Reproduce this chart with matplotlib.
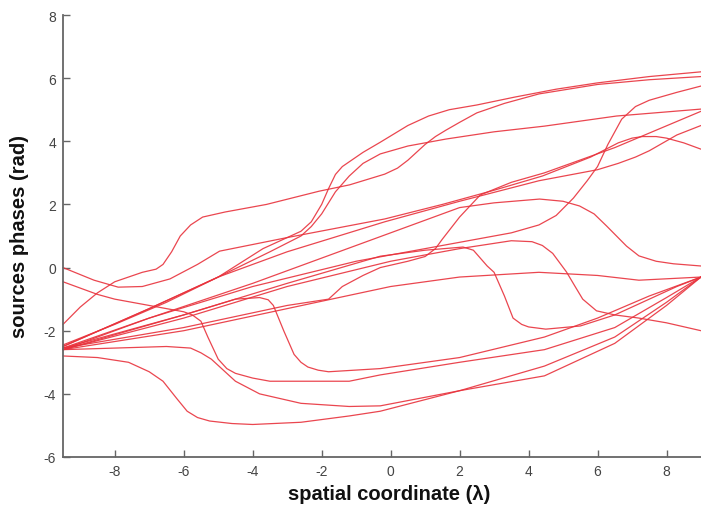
"""Phase profiles of the array sources against spatial coordinate."""

import matplotlib.pyplot as plt

# Each source: sampled (x, phase) pairs along the aperture.
src_01_x = [-9.5, -8.0, -6.5, -5.0, -3.7, -3.0, -2.6, -2.3, -2.0, -1.8, -1.6, -1.4, -1.2, -0.8, -0.3, 0.5, 1.1, 1.7, 2.5, 3.6, 4.8, 6.0, 7.5, 9.0]
src_01_y = [-2.45, -1.8, -1.1, -0.3, 0.6, 0.95, 1.15, 1.45, 2.0, 2.5, 2.95, 3.2, 3.35, 3.65, 3.97, 4.5, 4.8, 5.0, 5.15, 5.4, 5.65, 5.85, 6.05, 6.2]

src_02_x = [-9.5, -9.0, -8.5, -8.0, -7.2, -6.8, -6.6, -6.35, -6.1, -5.8, -5.45, -4.8, -3.6, -2.07, -1.19, -0.17, 0.2, 0.5, 0.8, 1.0, 1.3, 1.6, 2.0, 2.5, 3.3, 4.3, 6.0, 7.5, 9.0]
src_02_y = [-1.8, -1.25, -0.8, -0.45, -0.15, -0.05, 0.1, 0.5, 1.0, 1.35, 1.6, 1.76, 2.0, 2.42, 2.62, 2.96, 3.15, 3.4, 3.7, 3.9, 4.15, 4.35, 4.6, 4.9, 5.2, 5.5, 5.8, 5.95, 6.05]

src_03_x = [-9.5, -7.0, -5.0, -3.5, -2.6, -2.3, -2.0, -1.6, -1.2, -0.8, -0.3, 0.5, 1.6, 3.0, 4.46, 6.55, 9.0]
src_03_y = [-2.5, -1.3, -0.3, 0.5, 1.0, 1.3, 1.7, 2.4, 2.9, 3.3, 3.6, 3.85, 4.07, 4.3, 4.48, 4.8, 5.02]

src_04_x = [-9.5, -7.0, -4.0, -1.0, 1.0, 2.5, 3.5, 4.3, 4.8, 5.3, 5.7, 6.0, 6.3, 6.7, 7.1, 7.5, 8.3, 9.0]
src_04_y = [-2.6, -1.6, -0.6, 0.2, 0.6, 0.9, 1.1, 1.35, 1.65, 2.2, 2.75, 3.2, 3.9, 4.7, 5.1, 5.3, 5.55, 5.75]

src_05_x = [-9.5, -8.6, -7.9, -7.2, -6.4, -5.6, -4.96, -3.0, -0.17, 1.5, 3.0, 4.4, 5.8, 6.6, 7.0, 7.3, 7.7, 8.0, 8.5, 9.0]
src_05_y = [0.0, -0.4, -0.62, -0.6, -0.36, 0.1, 0.52, 0.95, 1.54, 2.0, 2.45, 2.9, 3.5, 3.95, 4.1, 4.15, 4.15, 4.1, 3.95, 3.75]

src_06_x = [-9.5, -7.0, -4.0, -2.0, 0.0, 1.0, 2.0, 3.0, 4.32, 5.0, 5.48, 5.9, 6.26, 6.55, 6.84, 7.2, 7.7, 8.2, 9.0]
src_06_y = [-2.55, -1.6, -0.5, 0.3, 1.1, 1.5, 1.9, 2.05, 2.17, 2.1, 1.95, 1.7, 1.32, 1.0, 0.68, 0.37, 0.2, 0.12, 0.05]

src_07_x = [-9.5, -6.0, -3.0, -0.3, 1.0, 2.1, 2.4, 2.6, 2.8, 3.0, 3.3, 3.55, 3.8, 4.0, 4.5, 5.5, 6.5, 7.5, 8.3, 9.0]
src_07_y = [-2.6, -1.5, -0.5, 0.36, 0.55, 0.65, 0.55, 0.3, 0.05, -0.15, -0.9, -1.6, -1.8, -1.88, -1.95, -1.85, -1.5, -1.0, -0.6, -0.3]

src_08_x = [-9.5, -6.0, -3.0, 0.0, 2.0, 3.5, 4.1, 4.4, 4.7, 5.1, 5.35, 5.57, 5.97, 6.5, 7.2, 8.0, 9.0]
src_08_y = [-2.6, -1.6, -0.6, 0.2, 0.6, 0.85, 0.82, 0.7, 0.45, -0.14, -0.6, -1.0, -1.37, -1.5, -1.6, -1.75, -2.0]

src_09_x = [-9.5, -8.0, -6.0, -4.5, -3.8, -3.55, -3.4, -3.1, -2.8, -2.6, -2.4, -2.1, -1.8, -0.3, 2.0, 4.46, 6.0, 7.5, 9.0]
src_09_y = [-2.55, -2.1, -1.5, -1.0, -0.95, -1.02, -1.2, -2.0, -2.75, -3.0, -3.15, -3.25, -3.3, -3.2, -2.85, -2.2, -1.6, -0.9, -0.3]

src_10_x = [-9.5, -8.5, -8.0, -7.0, -6.0, -5.75, -5.5, -5.3, -5.0, -4.75, -4.5, -4.0, -3.5, -1.2, -0.3, 2.0, 4.46, 6.5, 8.0, 9.0]
src_10_y = [-0.45, -0.85, -1.0, -1.2, -1.4, -1.5, -1.7, -2.2, -2.9, -3.2, -3.35, -3.5, -3.6, -3.6, -3.4, -3.0, -2.6, -1.9, -0.95, -0.3]

src_11_x = [-9.5, -8.0, -6.5, -5.8, -5.5, -5.2, -5.0, -4.5, -3.8, -2.6, -1.2, -0.3, 2.0, 4.46, 6.5, 8.0, 9.0]
src_11_y = [-2.6, -2.55, -2.5, -2.55, -2.7, -2.9, -3.1, -3.6, -4.0, -4.3, -4.4, -4.38, -3.9, -3.12, -2.2, -1.1, -0.3]

src_12_x = [-9.5, -8.5, -7.6, -7.0, -6.6, -6.2, -5.9, -5.6, -5.25, -4.6, -4.0, -2.6, -1.2, -0.3, 2.0, 4.46, 6.5, 8.0, 9.0]
src_12_y = [-2.8, -2.85, -3.0, -3.3, -3.6, -4.15, -4.55, -4.75, -4.86, -4.94, -4.97, -4.9, -4.7, -4.55, -3.9, -3.43, -2.4, -1.2, -0.3]

src_13_x = [-9.5, -6.0, -3.0, 0.0, 2.0, 4.3, 6.0, 7.2, 9.0]
src_13_y = [-2.6, -2.0, -1.3, -0.6, -0.3, -0.15, -0.25, -0.4, -0.3]

src_14_x = [-9.5, -7.0, -5.0, -3.0, -0.17, 2.0, 4.3, 6.0, 6.6, 7.1, 7.5, 8.3, 9.0]
src_14_y = [-2.5, -1.3, -0.3, 0.5, 1.45, 2.1, 2.75, 3.1, 3.3, 3.5, 3.7, 4.2, 4.5]

src_15_x = [-9.5, -6.0, -3.0, -1.8, -1.6, -1.4, -0.8, -0.3, 0.5, 1.0, 1.3, 1.5, 2.0, 2.6, 3.5, 4.46, 6.5, 9.0]
src_15_y = [-2.55, -1.9, -1.2, -1.0, -0.8, -0.6, -0.25, 0.0, 0.2, 0.35, 0.6, 0.9, 1.6, 2.3, 2.7, 3.0, 3.8, 4.95]

sources = [
    (src_01_x, src_01_y), (src_02_x, src_02_y), (src_03_x, src_03_y),
    (src_04_x, src_04_y), (src_05_x, src_05_y), (src_06_x, src_06_y),
    (src_07_x, src_07_y), (src_08_x, src_08_y), (src_09_x, src_09_y),
    (src_10_x, src_10_y), (src_11_x, src_11_y), (src_12_x, src_12_y),
    (src_13_x, src_13_y), (src_14_x, src_14_y), (src_15_x, src_15_y),
]

x_ticks = [-8, -6, -4, -2, 0, 2, 4, 6, 8]
y_ticks = [-6, -4, -2, 0, 2, 4, 6, 8]

plt.rcParams["font.family"] = ["Liberation Sans", "DejaVu Sans"]
plt.rcParams["axes.unicode_minus"] = False

fig = plt.figure(figsize=(7.01, 5.10), dpi=100)
ax = fig.add_axes([63 / 701, 52 / 510, 1 - 63 / 701, 442 / 510])

for xs, ys in sources:
    ax.plot(xs, ys, color="#e8323c", linewidth=0.9, alpha=0.9,
            solid_joinstyle="round", solid_capstyle="round", clip_on=False)

ax.set_xlim(-9.5, 9.0)
ax.set_ylim(-6, 8)
ax.set_xticks(x_ticks)
ax.set_yticks(y_ticks)

for side in ("top", "right"):
    ax.spines[side].set_visible(False)
for side in ("left", "bottom"):
    ax.spines[side].set_color("#666666")
    ax.spines[side].set_linewidth(1.3)

ax.tick_params(direction="in", length=5, width=1, color="#666666",
               labelsize=10, labelcolor="#444444", pad=5)

ax.set_xlabel("spatial coordinate (λ)", fontsize=14.5, fontweight="bold",
              color="#111111")
ax.set_ylabel("sources phases (rad)", fontsize=14.5, fontweight="bold",
              color="#111111")
ax.xaxis.set_label_coords(0.511, -0.06)
ax.yaxis.set_label_coords(-0.053, 0.5)

fig.savefig("out.png", dpi=100)
